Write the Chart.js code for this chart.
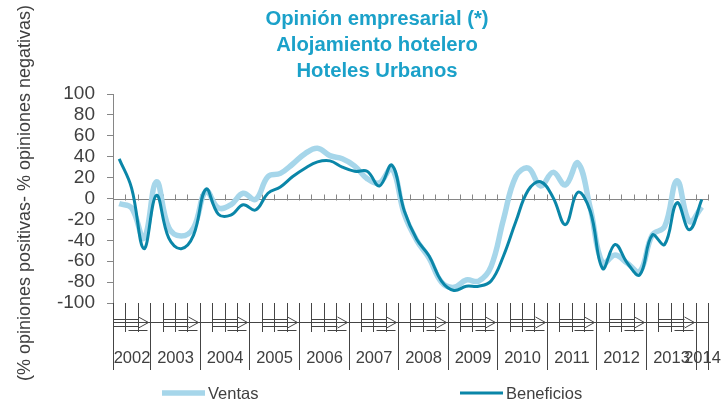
<!DOCTYPE html>
<html>
<head>
<meta charset="utf-8">
<script src="https://cdn.jsdelivr.net/npm/chart.js@4.4.1/dist/chart.umd.min.js"></script>
<style>
  html, body { margin: 0; padding: 0; background: #fff; }
</style>
</head>
<body>
<canvas id="myChart" width="721" height="405"></canvas>
<script>
// quarterly data, II-2002 .. I-2014
const quarters = [
  'II-02', 'III-02', 'IV-02',
  'I-03', 'II-03', 'III-03', 'IV-03',
  'I-04', 'II-04', 'III-04', 'IV-04',
  'I-05', 'II-05', 'III-05', 'IV-05',
  'I-06', 'II-06', 'III-06', 'IV-06',
  'I-07', 'II-07', 'III-07', 'IV-07',
  'I-08', 'II-08', 'III-08', 'IV-08',
  'I-09', 'II-09', 'III-09', 'IV-09',
  'I-10', 'II-10', 'III-10', 'IV-10',
  'I-11', 'II-11', 'III-11', 'IV-11',
  'I-12', 'II-12', 'III-12', 'IV-12',
  'I-13', 'II-13', 'III-13', 'IV-13',
  'I-14',
];
const years = ['2002', '2003', '2004', '2005', '2006', '2007', '2008',
  '2009', '2010', '2011', '2012', '2013', '2014'];

const ventas = [
  -5, -9, -38,
  16, -28, -36, -28,
  7, -9, -6, 5,
  -1, 21, 24, 33,
  43, 48, 41, 38,
  31, 19, 15, 29,
  -15, -40, -57, -80,
  -85, -78, -79, -65,
  -20, 21, 29, 12,
  25, 13, 34, -9,
  -62, -54, -62, -70,
  -35, -27, 17, -22,
  -8,
];
const beneficios = [
  38, 10, -48,
  3, -38, -48, -35,
  9, -15, -16, -6,
  -11, 5, 11, 21,
  29, 35, 36, 30,
  26, 26, 12, 32,
  -12, -39, -55, -79,
  -88, -84, -84, -79,
  -55, -22, 8, 16,
  1, -25, 6, -12,
  -67, -44, -62, -73,
  -35, -44, -4, -30,
  -1,
];
const titleLines = ['Opinión empresarial (*)', 'Alojamiento hotelero', 'Hoteles Urbanos'];
const yTitle = '(% opiniones positivas- % opiniones negativas)';

const axisGray = '#868686';
const textGray = '#404040';
const font = 'Liberation Sans, Arial, sans-serif';

const decor = {
  id: 'decor',
  beforeDatasetsDraw(chart) {
    const { ctx, chartArea, scales: { x, y } } = chart;
    const y0 = Math.round(y.getPixelForValue(0)) + 0.5;
    const half = (x.getPixelForValue(1) - x.getPixelForValue(0)) / 2;
    ctx.save();
    ctx.strokeStyle = axisGray;
    ctx.lineWidth = 1;
    ctx.beginPath();
    ctx.moveTo(chartArea.left, y0);
    ctx.lineTo(chartArea.right, y0);
    for (let i = 0; i <= quarters.length; i++) {
      const px = Math.round(x.getPixelForValue(i) - half) + 0.5;
      ctx.moveTo(px, y0 - 5);
      ctx.lineTo(px, y0 + 1);
    }
    ctx.stroke();
    ctx.restore();
  },
  afterDraw(chart) {
    const { ctx, chartArea, scales: { x } } = chart;
    const half = (x.getPixelForValue(1) - x.getPixelForValue(0)) / 2;
    const bx = (i) => Math.round(x.getPixelForValue(i) - half) + 0.5;
    const bottom = chartArea.bottom;
    ctx.save();

    // bottom category axis (years)
    ctx.strokeStyle = '#444';
    ctx.lineWidth = 1;
    ctx.beginPath();
    ctx.moveTo(chartArea.left, 322.5);
    ctx.lineTo(chartArea.right, 322.5);
    const yearStarts = [0];
    quarters.forEach((q, i) => { if (i > 0 && q.startsWith('I-')) yearStarts.push(i); });
    yearStarts.push(quarters.length);
    for (let i = 0; i <= quarters.length; i++) {
      const isYear = yearStarts.includes(i);
      ctx.moveTo(bx(i), bottom);
      ctx.lineTo(bx(i), isYear ? 370 : 332);
    }
    ctx.stroke();

    // arrows inside each year
    ctx.beginPath();
    for (let k = 0; k < yearStarts.length - 1; k++) {
      const a = bx(yearStarts[k]);
      const b = bx(yearStarts[k + 1]);
      const n = yearStarts[k + 1] - yearStarts[k];
      if (n < 2) continue;
      const start = n === 4 ? bx(yearStarts[k] + 1) : a;
      const tipStart = b - 12;
      ctx.moveTo(start, 319.5); ctx.lineTo(tipStart, 319.5);
      ctx.moveTo(start, 326.5); ctx.lineTo(tipStart, 326.5);
      ctx.moveTo(tipStart, 317); ctx.lineTo(b - 2, 322.5); ctx.lineTo(tipStart, 328);
      ctx.moveTo(tipStart - 10, 330.5); ctx.lineTo(b - 3, 330.5);
    }
    ctx.stroke();

    ctx.fillStyle = textGray;
    ctx.font = '16.5px ' + font;
    ctx.textAlign = 'center';
    ctx.textBaseline = 'alphabetic';
    years.forEach((yr, k) => {
      const cx = (bx(yearStarts[k]) + bx(yearStarts[k + 1])) / 2;
      ctx.fillText(yr, cx, 363);
    });

    // title
    ctx.fillStyle = '#1ba1c9';
    ctx.font = 'bold 20.3px ' + font;
    titleLines.forEach((t, i) => ctx.fillText(t, 377, 25 + i * 26));

    // y axis title
    ctx.fillStyle = textGray;
    ctx.font = '18px ' + font;
    ctx.save();
    ctx.translate(30, 193);
    ctx.rotate(-Math.PI / 2);
    ctx.fillText(yTitle, 0, 0);
    ctx.restore();

    // legend
    const items = [
      { ds: chart.data.datasets[0], x: 162 },
      { ds: chart.data.datasets[1], x: 460 },
    ];
    ctx.font = '16.5px ' + font;
    ctx.textAlign = 'left';
    items.forEach(({ ds, x: lx }) => {
      ctx.strokeStyle = ds.borderColor;
      ctx.lineWidth = ds.borderWidth;
      ctx.beginPath();
      ctx.moveTo(lx, 393);
      ctx.lineTo(lx + 43, 393);
      ctx.stroke();
      ctx.fillStyle = textGray;
      ctx.fillText(ds.label, lx + 46, 399);
    });
    ctx.restore();
  },
};

const ctx = document.getElementById('myChart').getContext('2d');
const chart = new Chart(ctx, {
  type: 'line',
  data: {
    labels: quarters,
    datasets: [
      {
        label: 'Ventas',
        data: ventas,
        borderColor: '#a6d6ea',
        borderWidth: 5.5,
        pointRadius: 0,
        tension: 0.4,
        order: 2,
      },
      {
        label: 'Beneficios',
        data: beneficios,
        borderColor: '#0a86a8',
        borderWidth: 3,
        pointRadius: 0,
        tension: 0.4,
        order: 1,
      },
    ],
  },
  options: {
    responsive: false,
    animation: false,
    layout: { padding: { top: 94, bottom: 102, left: 0, right: 13 } },
    plugins: {
      legend: { display: false },
      title: { display: false },
      tooltip: { enabled: false },
    },
    scales: {
      x: {
        type: 'category',
        display: false,
        offset: true,
      },
      y: {
        min: -100,
        max: 100,
        afterFit: (scale) => { scale.width = 113; },
        border: { color: axisGray, width: 1 },
        grid: { drawOnChartArea: false, tickLength: 6, color: axisGray },
        ticks: {
          stepSize: 20,
          autoSkip: false,
          padding: 12,
          color: textGray,
          font: { size: 19, family: font, lineHeight: 1 },
        },
      },
    },
  },
  plugins: [decor],
});
</script>
</body>
</html>
